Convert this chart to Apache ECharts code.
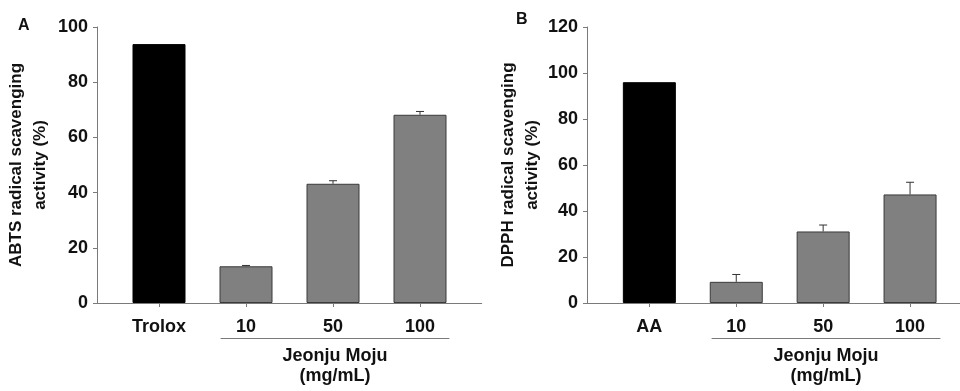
<!DOCTYPE html>
<html>
<head>
<meta charset="utf-8">
<script src="https://cdn.jsdelivr.net/npm/echarts@6/dist/echarts.min.js"></script>
<style>html,body{margin:0;padding:0;background:#fff;}#c{width:960px;height:391px;}</style>
</head>
<body>
<div id="c"></div>
<script>
// ---- data ----
var catsA = ['Trolox', '10', '50', '100'];
var abtsMean = [93.8, 13.3, 43.2, 68.2];
var abtsErr = [0, 0.3, 1.1, 1.2];
var catsB = ['AA', '10', '50', '100'];
var dpphMean = [96.0, 9.2, 31.1, 47.2];
var dpphErr = [0, 3.2, 2.8, 5.3];
var yTicksA = [0, 20, 40, 60, 80, 100];
var yTicksB = [0, 20, 40, 60, 80, 100, 120];

var FONT = '"Liberation Sans", Arial, sans-serif';
var TXT = '#111';
var AXC = '#7a7a7a';
var FS = 18;

function barData(vals) {
  return vals.map(function (v, i) {
    return {
      value: v,
      itemStyle: i === 0 ? { color: '#000', borderColor: '#000', borderWidth: 1 }
                         : { color: '#808080', borderColor: '#3a3a3a', borderWidth: 1 }
    };
  });
}
function errData(vals, errs) {
  var out = [];
  vals.forEach(function (v, i) { if (errs[i] > 0) out.push([i, v, v + errs[i]]); });
  return out;
}
function renderErr(params, api) {
  var x = api.value(0);
  var lo = api.coord([x, api.value(1)]);
  var hi = api.coord([x, api.value(2)]);
  var cap = 4;
  var st = { stroke: '#333', lineWidth: 1 };
  return {
    type: 'group',
    children: [
      { type: 'line', shape: { x1: lo[0], y1: lo[1], x2: hi[0], y2: hi[1] }, style: st },
      { type: 'line', shape: { x1: hi[0] - cap, y1: hi[1], x2: hi[0] + cap, y2: hi[1] }, style: st }
    ]
  };
}

var gTop = 27, gH = 276;
var grids = [
  { left: 115.5, width: 348, top: gTop, height: gH },
  { left: 97, width: 384.7, top: gTop, height: gH },
  { left: 221, width: 228, top: gTop, height: gH },
  { left: 605.9, width: 347.6, top: gTop, height: gH },
  { left: 587, width: 373, top: gTop, height: gH },
  { left: 712, width: 228, top: gTop, height: gH }
];

var hidden = { show: false };
function catX(gi, cats) {
  return {
    gridIndex: gi, type: 'category', data: cats, boundaryGap: true,
    axisLine: { show: false, onZero: false },
    axisTick: { show: true, alignWithLabel: true, length: 4, lineStyle: { color: AXC } },
    axisLabel: { color: TXT, fontFamily: FONT, fontWeight: 'bold', fontSize: FS, margin: 15 },
    splitLine: hidden
  };
}
function frameX(gi) {
  return {
    gridIndex: gi, type: 'value', min: 0, max: 1,
    axisLine: { show: true, onZero: false, lineStyle: { color: AXC, width: 1 } },
    axisTick: hidden, axisLabel: hidden, splitLine: hidden
  };
}
function bracketX(gi) {
  return {
    gridIndex: gi, type: 'value', min: 0, max: 1, position: 'bottom', offset: 40,
    axisLine: { show: true, onZero: false, lineStyle: { color: AXC, width: 1 } },
    axisTick: hidden, axisLabel: hidden, splitLine: hidden,
    name: 'Jeonju Moju\n(mg/mL)', nameLocation: 'middle', nameGap: 8,
    nameTextStyle: { color: TXT, fontFamily: FONT, fontWeight: 'bold', fontSize: FS, lineHeight: 20, verticalAlign: 'top' }
  };
}
function hiddenY(gi, max) {
  return { gridIndex: gi, type: 'value', min: 0, max: max, show: false, splitLine: hidden };
}
function frameY(gi, ticks, name, gap) {
  return {
    gridIndex: gi, type: 'value', min: ticks[0], max: ticks[ticks.length - 1],
    interval: ticks[1] - ticks[0],
    axisLine: { show: true, onZero: false, lineStyle: { color: AXC, width: 1 } },
    axisTick: { show: true, length: 4, lineStyle: { color: AXC } },
    axisLabel: { color: TXT, fontFamily: FONT, fontWeight: 'bold', fontSize: FS, margin: 9 },
    splitLine: hidden,
    name: name, nameLocation: 'middle', nameGap: gap, nameRotate: 90,
    nameTextStyle: { color: TXT, fontFamily: FONT, fontWeight: 'bold', fontSize: 17, lineHeight: 24 }
  };
}

var maxA = yTicksA[yTicksA.length - 1];
var maxB = yTicksB[yTicksB.length - 1];

var option = {
  animation: false,
  backgroundColor: '#fff',
  title: [
    { text: 'A', left: 13, top: 13, textStyle: { color: TXT, fontFamily: FONT, fontWeight: 'bold', fontSize: 16 } },
    { text: 'B', left: 511, top: 7, textStyle: { color: TXT, fontFamily: FONT, fontWeight: 'bold', fontSize: 16 } }
  ],
  grid: grids,
  xAxis: [catX(0, catsA), frameX(1), bracketX(2), catX(3, catsB), frameX(4), bracketX(5)],
  yAxis: [
    hiddenY(0, maxA),
    frameY(1, yTicksA, 'ABTS radical scavenging\nactivity (%)', 45),
    hiddenY(2, maxA),
    hiddenY(3, maxB),
    frameY(4, yTicksB, 'DPPH radical scavenging\nactivity (%)', 41),
    hiddenY(5, maxB)
  ],
  series: [
    { type: 'bar', xAxisIndex: 0, yAxisIndex: 0, data: barData(abtsMean), barWidth: 53, z: 2 },
    { type: 'custom', xAxisIndex: 0, yAxisIndex: 0, data: errData(abtsMean, abtsErr), renderItem: renderErr, z: 3 },
    { type: 'bar', xAxisIndex: 3, yAxisIndex: 3, data: barData(dpphMean), barWidth: 53, z: 2 },
    { type: 'custom', xAxisIndex: 3, yAxisIndex: 3, data: errData(dpphMean, dpphErr), renderItem: renderErr, z: 3 }
  ]
};

var chart = echarts.init(document.getElementById('c'), null, { renderer: 'canvas' });
chart.setOption(option);
</script>
</body>
</html>
